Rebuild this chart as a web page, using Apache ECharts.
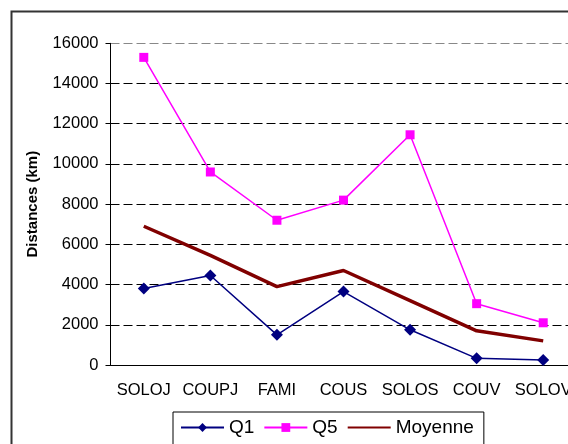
<!DOCTYPE html>
<html>
<head>
<meta charset="utf-8">
<script src="https://cdn.jsdelivr.net/npm/echarts@6/dist/echarts.min.js"></script>
<style>
  html, body { margin: 0; padding: 0; background: #fff; overflow: hidden; }
  #main { width: 578px; height: 444px; }
</style>
</head>
<body>
<div id="main"></div>
<script>
var categories = ['SOLOJ', 'COUPJ', 'FAMI', 'COUS', 'SOLOS', 'COUV', 'SOLOV'];
var q1 = [3800, 4450, 1500, 3650, 1750, 330, 250];
var q5 = [15300, 9600, 7200, 8200, 11450, 3050, 2100];
var moyenne = [6900, 5450, 3900, 4700, 3200, 1700, 1200];
var yTicks = [0, 2000, 4000, 6000, 8000, 10000, 12000, 14000, 16000];

var font = 'Liberation Sans, Arial, sans-serif';
// the plot runs past the right edge of the picture, so the chart div is a bit wider than the window
var myChart = echarts.init(document.getElementById('main'));

// gridline colours: the top one is gray, the rest black dashes
var gridColors = yTicks.map(function (v, i) { return i === yTicks.length - 1 ? '#888' : '#000'; });

var option = {
    animation: false,
    backgroundColor: '#fff',
    textStyle: { fontFamily: font },
    graphic: [{
        type: 'rect',
        shape: { x: 11.5, y: 11.5, width: 620, height: 500 },
        style: { fill: 'none', stroke: '#333', lineWidth: 2 },
        z: -1
    }],
    grid: { left: 110.5, top: 43.3, width: 466, bottom: 79 },
    legend: {
        left: 173,
        top: 412,
        padding: [6, 10, 10, 7],
        borderColor: '#000',
        borderWidth: 1,
        itemWidth: 43,
        itemHeight: 11,
        itemGap: 9,
        textStyle: { fontSize: 19, color: '#000', fontFamily: font },
        data: ['Q1', 'Q5', { name: 'Moyenne', itemStyle: { opacity: 0 } }]
    },
    xAxis: {
        type: 'category',
        data: categories,
        boundaryGap: true,
        axisLine: { lineStyle: { color: '#000', width: 1 } },
        axisTick: { length: 5, lineStyle: { color: '#000' } },
        axisLabel: { margin: 17, fontSize: 16.5, color: '#000', fontFamily: font, interval: 0 }
    },
    yAxis: {
        type: 'value',
        min: 0,
        max: 16000,
        interval: 2000,
        name: 'Distances (km)',
        nameLocation: 'middle',
        nameRotate: 90,
        nameGap: 70,
        nameTextStyle: { fontSize: 15, fontWeight: 'bold', color: '#000', fontFamily: font },
        axisLine: { show: true, lineStyle: { color: '#000', width: 1 } },
        axisTick: { show: true, length: 5, lineStyle: { color: '#000' } },
        axisLabel: {
            margin: 12, fontSize: 16.5, color: '#000', fontFamily: font,
            formatter: function (v) { return String(v); }
        },
        splitLine: { show: true, lineStyle: { color: gridColors, type: [9, 4], width: 1 } }
    },
    series: [
        {
            name: 'Q1',
            type: 'line',
            data: q1,
            symbol: 'diamond',
            symbolSize: 12,
            itemStyle: { color: '#000080' },
            lineStyle: { color: '#000080', width: 1.5 }
        },
        {
            name: 'Q5',
            type: 'line',
            data: q5,
            symbol: 'rect',
            symbolSize: 9,
            itemStyle: { color: '#ff00ff' },
            lineStyle: { color: '#ff00ff', width: 1.5 }
        },
        {
            name: 'Moyenne',
            type: 'line',
            data: moyenne,
            symbol: 'none',
            itemStyle: { color: '#800000' },
            lineStyle: { color: '#800000', width: 3.5 }
        }
    ]
};

myChart.setOption(option);
</script>
</body>
</html>
